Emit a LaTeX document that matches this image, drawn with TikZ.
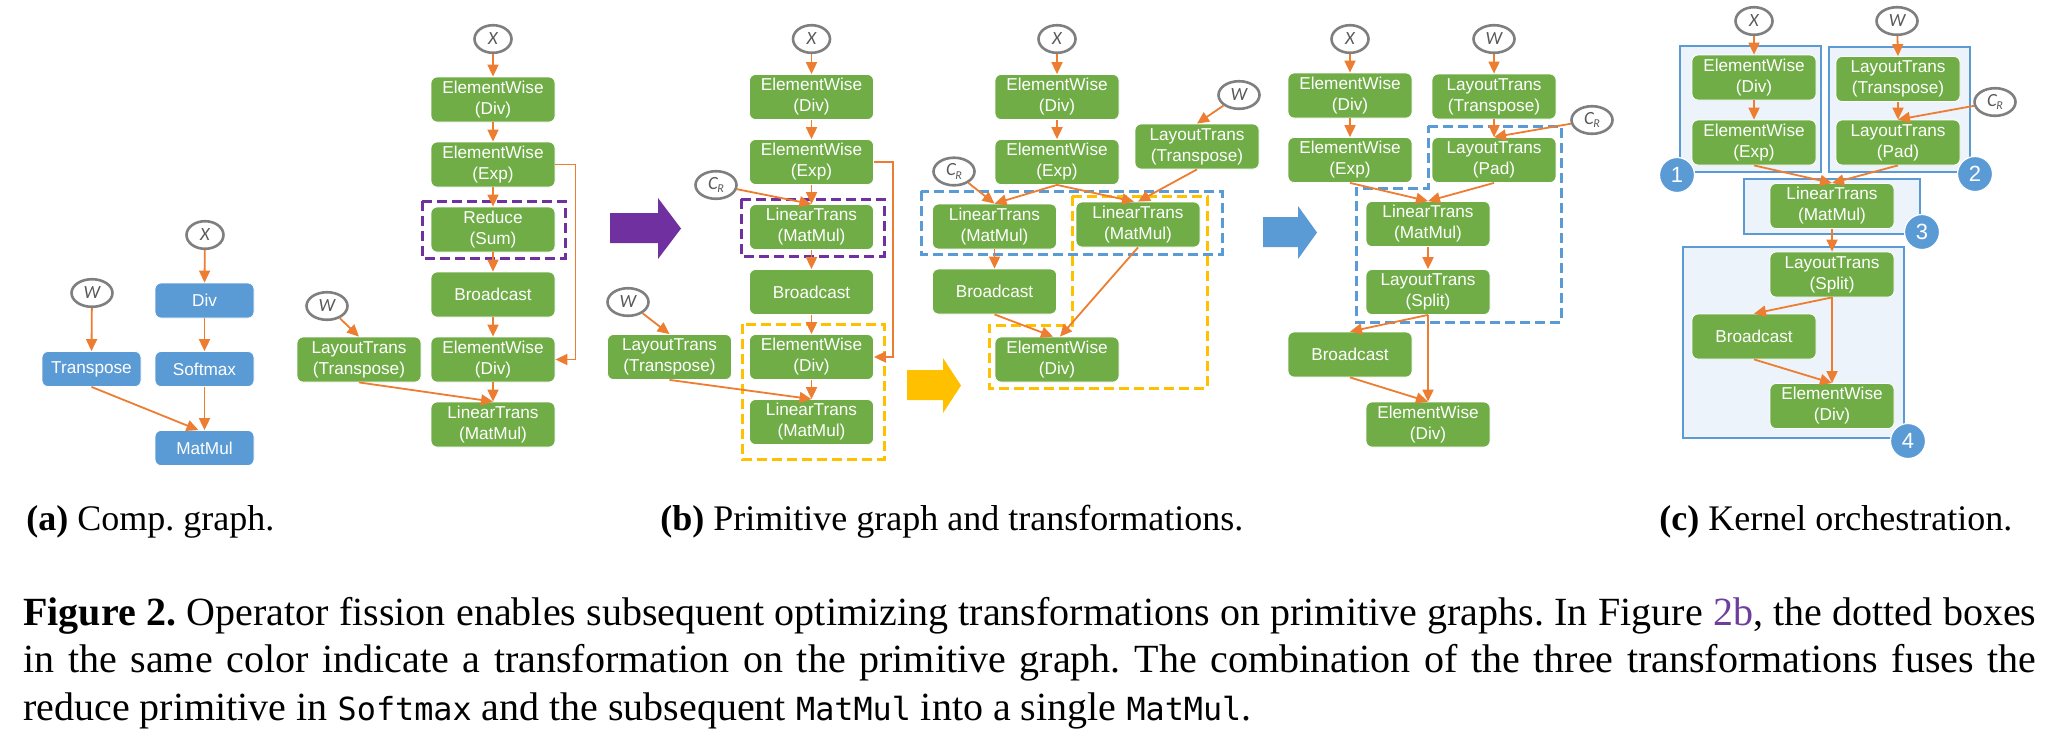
\documentclass[tikz,border=0pt]{standalone}
\usepackage{fontspec}
\usepackage{graphicx}
\setmainfont{Liberation Serif}
\newfontfamily\boxfont{Liberation Sans}
\newfontfamily\circfont{Carlito}
\newfontfamily\cmono{DejaVu Sans Mono}[Scale=0.795]
\usetikzlibrary{shapes.geometric,arrows.meta,calc}
\definecolor{gr}{HTML}{70AD47}
\definecolor{ob}{HTML}{5B9BD5}
\definecolor{org}{HTML}{ED7D31}
\definecolor{pur}{HTML}{7030A0}
\definecolor{yel}{HTML}{FFC000}
\definecolor{cg}{HTML}{7F7F7F}
\definecolor{lg}{HTML}{595959}
\definecolor{kfill}{HTML}{EDF3FA}
\definecolor{linkc}{HTML}{6F3D9B}
\tikzset{
  gbox/.style={fill=gr, draw=white, line width=0.4pt, rounded corners=3pt, text=white, font=\boxfont\fontsize{8.6pt}{10.5pt}\selectfont, align=center, minimum width=62pt, minimum height=22.5pt, inner sep=0pt},
  bbox/.style={gbox, fill=ob, minimum width=49.5pt, minimum height=17.5pt},
  inp/.style={ellipse, draw=cg, line width=1.3pt, minimum width=18.5pt, minimum height=13.8pt, inner sep=0pt, text=lg, font=\circfont\itshape\fontsize{9.3pt}{10pt}\selectfont},
  inpw/.style={inp, minimum width=20.5pt},
  arr/.style={draw=org, line width=0.9pt, -{Triangle[length=6pt,width=5.5pt]}},
  dbox/.style={line width=1.5pt, dash pattern=on 5pt off 2.5pt},
  kbox/.style={draw=ob, fill=kfill, line width=1.4pt},
  badge/.style={circle, fill=ob, draw=white, line width=0.6pt, text=white, minimum size=17.5pt, inner sep=0pt, font=\boxfont\fontsize{11pt}{11pt}\selectfont},
  captext/.style={inner sep=0pt, anchor=base west, font=\frenchspacing\fontsize{18pt}{22pt}\selectfont},
  figtext/.style={inner sep=0pt, anchor=base west, font=\frenchspacing\fontsize{20pt}{24pt}\selectfont},
}
\newcommand{\CR}{C\kern-0.3pt\raisebox{-1.8pt}{\fontsize{6pt}{6pt}\selectfont R}}
\newsavebox\capbox
\newcommand\fitline[1]{\sbox\capbox{#1}\ifdim\wd\capbox>1006.5pt\relax\resizebox{1006.5pt}{\ht\capbox}{\usebox\capbox}\else\hbox to 1006.5pt{#1}\fi}
\begin{document}
\begin{tikzpicture}[x=0.5pt,y=-0.5pt]
\useasboundingbox (0,0) rectangle (2049,736);
\fill[white] (0,0) rectangle (2049,736);

% ---------- background shapes ----------
\draw[dbox, pur] (422,201) rectangle (565,258);
\draw[dbox, pur] (741,199) rectangle (884,256);
\draw[dbox, yel] (742,324) rectangle (884,459);
\draw[dbox, ob] (921,191) rectangle (1222,254);
\draw[dbox, yel] (1072,196) -- (1207,196) -- (1207,388) -- (989,388) -- (989,325) -- (1072,325) -- cycle;
\draw[dbox, ob] (1428,126) -- (1561,126) -- (1561,322) -- (1356,322) -- (1356,188) -- (1428,188) -- cycle;
\draw[kbox] (1680,46) rectangle (1821,172);
\draw[kbox] (1829,47) rectangle (1970,172);
\draw[kbox] (1744,179) rectangle (1920,234);
\draw[kbox] (1683,247) rectangle (1904,438);

% big arrows
\fill[pur] (610,213) -- (658,213) -- (658,198) -- (681,228.5) -- (658,259) -- (658,243) -- (610,243) -- cycle;
\fill[yel] (907,370) -- (943,370) -- (943,358) -- (961,385.5) -- (943,413) -- (943,400) -- (907,400) -- cycle;
\fill[ob] (1263,217) -- (1298,217) -- (1298,206) -- (1317,232.5) -- (1298,259) -- (1298,247) -- (1263,247) -- cycle;

% ---------- (a) ----------
\node[inp] (aX) at (205,235) {X};
\node[inpw] (aW) at (92,293) {W};
\node[bbox] (aDiv) at (204.5,300.5) {Div};
\node[bbox] (aTr) at (91.5,369) {Transpose};
\node[bbox] (aSm) at (204.5,369) {Softmax};
\node[bbox] (aMM) at (204.5,448) {MatMul};

% ---------- (b1) ----------
\node[inp] (b1X) at (493,39) {X};
\node[gbox] (b1Div) at (493,99.5) {ElementWise\\(Div)};
\node[gbox] (b1Exp) at (493,164.5) {ElementWise\\(Exp)};
\node[gbox] (b1Red) at (493,229.5) {Reduce\\(Sum)};
\node[gbox] (b1Bc) at (493,294.5) {Broadcast};
\node[gbox] (b1Div2) at (493,359.5) {ElementWise\\(Div)};
\node[gbox] (b1Lin) at (493,424.5) {LinearTrans\\(MatMul)};
\node[gbox] (b1LT) at (359,359.5) {LayoutTrans\\(Transpose)};
\node[inpw] (b1W) at (327,306) {W};

% ---------- (b2) ----------
\node[inp] (b2X) at (811.5,39) {X};
\node[gbox] (b2Div) at (811.5,97) {ElementWise\\(Div)};
\node[gbox] (b2Exp) at (811.5,162) {ElementWise\\(Exp)};
\node[gbox] (b2Lin) at (811.5,227) {LinearTrans\\(MatMul)};
\node[gbox] (b2Bc) at (811.5,292) {Broadcast};
\node[gbox] (b2Div2) at (811.5,357) {ElementWise\\(Div)};
\node[gbox] (b2Lin2) at (811.5,422) {LinearTrans\\(MatMul)};
\node[gbox] (b2LT) at (669.5,357) {LayoutTrans\\(Transpose)};
\node[inpw] (b2W) at (628,302) {W};
\node[inpw] (b2CR) at (716,185) {\CR};

% ---------- (b3) ----------
\node[inp] (b3X) at (1057,39) {X};
\node[gbox] (b3Div) at (1057,97) {ElementWise\\(Div)};
\node[gbox] (b3Exp) at (1057,162) {ElementWise\\(Exp)};
\node[inpw] (b3W) at (1239,95) {W};
\node[gbox] (b3LT) at (1197,146.5) {LayoutTrans\\(Transpose)};
\node[inpw] (b3CR) at (954,171.5) {\CR};
\node[gbox] (b3LinL) at (994.5,226.5) {LinearTrans\\(MatMul)};
\node[gbox] (b3LinR) at (1138,224.5) {LinearTrans\\(MatMul)};
\node[gbox] (b3Bc) at (994.5,291.5) {Broadcast};
\node[gbox] (b3Div2) at (1057,359.5) {ElementWise\\(Div)};

% ---------- (b4) ----------
\node[inp] (b4X) at (1350,39) {X};
\node[inpw] (b4W) at (1494,39) {W};
\node[gbox] (b4Div) at (1350,95.5) {ElementWise\\(Div)};
\node[gbox] (b4Exp) at (1350,160) {ElementWise\\(Exp)};
\node[gbox] (b4Tr) at (1494,96.5) {LayoutTrans\\(Transpose)};
\node[gbox] (b4Pad) at (1494,160) {LayoutTrans\\(Pad)};
\node[inpw] (b4CR) at (1592,120) {\CR};
\node[gbox] (b4Lin) at (1428,224) {LinearTrans\\(MatMul)};
\node[gbox] (b4Sp) at (1428,292) {LayoutTrans\\(Split)};
\node[gbox] (b4Bc) at (1350,354.5) {Broadcast};
\node[gbox] (b4Div2) at (1428,424.5) {ElementWise\\(Div)};

% ---------- (c) ----------
\node[inp] (cX) at (1754,21) {X};
\node[inpw] (cW) at (1897,21) {W};
\node[gbox] (cDiv) at (1754,77.5) {ElementWise\\(Div)};
\node[gbox] (cExp) at (1754,142.5) {ElementWise\\(Exp)};
\node[gbox] (cTr) at (1898,79) {LayoutTrans\\(Transpose)};
\node[gbox] (cPad) at (1898,142.5) {LayoutTrans\\(Pad)};
\node[inpw] (cCR) at (1995,102) {\CR};
\node[gbox] (cLin) at (1832,206) {LinearTrans\\(MatMul)};
\node[gbox] (cSp) at (1832,274.5) {LayoutTrans\\(Split)};
\node[gbox] (cBc) at (1754,336.5) {Broadcast};
\node[gbox] (cDiv2) at (1832,406) {ElementWise\\(Div)};
\node[badge] (k1) at (1677,175) {1};
\node[badge] (k2) at (1975,174) {2};
\node[badge] (k3) at (1922,232) {3};
\node[badge] (k4) at (1908,441) {4};

% ---------- connectors ----------
% (a)
\draw[arr] (aX) -- (aDiv.north);
\draw[arr] (aDiv.south) -- (aSm.north);
\draw[arr] (aSm.south) -- (aMM.north);
\draw[arr] (aW) -- (aTr.north);
\draw[arr] (aTr.south) -- ($(aMM.north)+(-6,0)$);
% (b1)
\draw[arr] (b1X) -- (b1Div.north);
\draw[arr] (b1Div.south) -- (b1Exp.north);
\draw[arr] (b1Exp.south) -- (b1Red.north);
\draw[arr] (b1Red.south) -- (b1Bc.north);
\draw[arr] (b1Bc.south) -- (b1Div2.north);
\draw[arr] (b1Div2.south) -- (b1Lin.north);
\draw[arr] (b1W) -- (b1LT.north);
\draw[arr] (b1LT.south) -- (b1Lin.north);
\draw[arr] (b1Exp.east) -- ++(20,0) |- (b1Div2.east);
% (b2)
\draw[arr] (b2X) -- (b2Div.north);
\draw[arr] (b2Div.south) -- (b2Exp.north);
\draw[arr] (b2Exp.south) -- (b2Lin.north);
\draw[arr] (b2CR) -- (b2Lin.north);
\draw[arr] (b2Lin.south) -- (b2Bc.north);
\draw[arr] (b2Bc.south) -- (b2Div2.north);
\draw[arr] (b2Div2.south) -- (b2Lin2.north);
\draw[arr] (b2W) -- (b2LT.north);
\draw[arr] (b2LT.south) -- (b2Lin2.north);
\draw[arr] (b2Exp.east) -- ++(19,0) |- (b2Div2.east);
% (b3)
\draw[arr] (b3X) -- (b3Div.north);
\draw[arr] (b3Div.south) -- (b3Exp.north);
\draw[arr] (b3Exp.south) -- (b3LinL.north);
\draw[arr] (b3Exp.south) -- ($(b3LinR.north)+(-4,0)$);
\draw[arr] (b3CR) -- (b3LinL.north);
\draw[arr] (b3W) -- (b3LT.north);
\draw[arr] (b3LT.south) -- (b3LinR.north);
\draw[arr] (b3LinL.south) -- (b3Bc.north);
\draw[arr] (b3Bc.south) -- ($(b3Div2.north)+(-4,0)$);
\draw[arr] (b3LinR.south) -- ($(b3Div2.north)+(3,0)$);
% (b4)
\draw[arr] (b4X) -- (b4Div.north);
\draw[arr] (b4Div.south) -- (b4Exp.north);
\draw[arr] (b4W) -- (b4Tr.north);
\draw[arr] (b4Tr.south) -- (b4Pad.north);
\draw[arr] (b4CR) -- (b4Pad.north);
\draw[arr] (b4Exp.south) -- (b4Lin.north);
\draw[arr] (b4Pad.south) -- (b4Lin.north);
\draw[arr] (b4Lin.south) -- (b4Sp.north);
\draw[arr] (b4Sp.south) -- (b4Bc.north);
\draw[arr] (b4Sp.south) -- (b4Div2.north);
\draw[arr] (b4Bc.south) -- (b4Div2.north);
% (c)
\draw[arr] (cX) -- (cDiv.north);
\draw[arr] (cDiv.south) -- (cExp.north);
\draw[arr] (cW) -- (cTr.north);
\draw[arr] (cTr.south) -- (cPad.north);
\draw[arr] (cCR) -- (cPad.north);
\draw[arr] (cExp.south) -- (cLin.north);
\draw[arr] (cPad.south) -- (cLin.north);
\draw[arr] (cLin.south) -- (cSp.north);
\draw[arr] (cSp.south) -- (cBc.north);
\draw[arr] (cSp.south) -- (cDiv2.north);
\draw[arr] (cBc.south) -- (cDiv2.north);

% ---------- captions ----------
\node[captext] (capa) at (26,530) {\textbf{(a)} Comp. graph.};
\node[captext] (capb) at (660,530) {\textbf{(b)} Primitive graph and transformations.};
\node[captext] (capc) at (1659,530) {\textbf{(c)} Kernel orchestration.};
\node[figtext] (fig1) at (23,625) {\fitline{\textbf{Figure 2.} Operator fission enables subsequent optimizing transformations on primitive graphs. In Figure {\color{linkc}2b}, the dotted boxes}};
\node[figtext] (fig2) at (23,672) {\fitline{in the same color indicate a transformation on the primitive graph. The combination of the three transformations fuses the}};
\node[figtext] (fig3) at (23,720) {reduce primitive in {\cmono Softmax} and the subsequent {\cmono MatMul} into a single {\cmono MatMul}.};
\end{tikzpicture}
\end{document}
